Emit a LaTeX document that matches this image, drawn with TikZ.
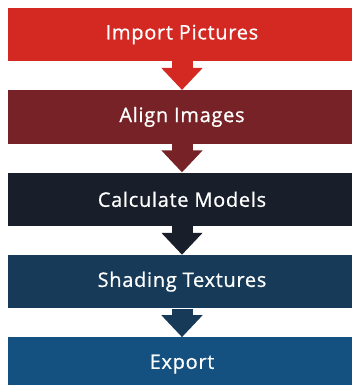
\documentclass[tikz,border=0pt]{standalone}
\usepackage{fontspec}
\setmainfont{Open Sans}[LetterSpace=3.5,FakeBold=0.8]
\usetikzlibrary{positioning,arrows.meta}
\definecolor{ImportClr}{RGB}{211,41,34}
\definecolor{AlignClr}{RGB}{118,34,38}
\definecolor{ModelClr}{RGB}{25,31,42}
\definecolor{ShadeClr}{RGB}{22,58,88}
\definecolor{ExportClr}{RGB}{20,80,128}

\begin{document}
\begin{tikzpicture}[x=1pt,y=1pt,
  node distance=28.5pt,
  stepbox/.style={minimum width=348pt,minimum height=53.5pt,inner sep=0pt,
    text=white,font=\fontsize{20}{22}\selectfont},
  flow/.style={line width=21pt,-{Triangle[width=40pt,length=22pt]}}]
\useasboundingbox (0,0) rectangle (352,-385);

\node[stepbox,fill=ImportClr] (imp) at (182,-34.5) {Import Pictures};
\node[stepbox,fill=AlignClr,below=of imp] (ali) {Align Images};
\node[stepbox,fill=ModelClr,below=of ali] (cal) {Calculate Models};
\node[stepbox,fill=ShadeClr,below=of cal] (sha) {Shading Textures};
\node[stepbox,fill=ExportClr,below=of sha] (exp) {Export};

% block arrows between the steps
\draw[flow,ImportClr] (imp) -- (ali);
\draw[flow,AlignClr] (ali) -- (cal);
\draw[flow,ModelClr] (cal) -- (sha);
\draw[flow,ShadeClr] (sha) -- (exp);

\end{tikzpicture}
\end{document}
